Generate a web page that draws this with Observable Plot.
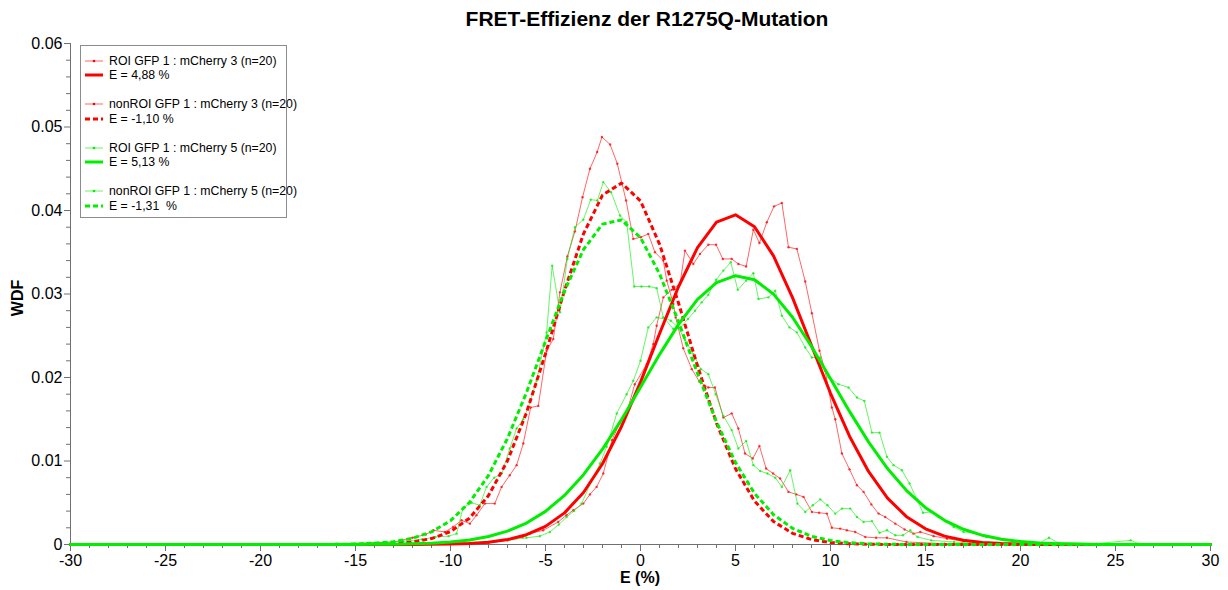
<!DOCTYPE html>
<html>
<head>
<meta charset="utf-8">
<script src="https://cdn.jsdelivr.net/npm/d3@7"></script>
<script src="https://cdn.jsdelivr.net/npm/@observablehq/plot@0.6"></script>
<style>
  html, body { margin: 0; padding: 0; background: #fff; }
  body { font-family: "Liberation Sans", Arial, sans-serif; color: #000; }
  #wrap { position: relative; width: 1228px; height: 590px; overflow: hidden; }
  #title { position: absolute; top: 7px; left: 0; width: 1294px; text-align: center;
           font-weight: bold; font-size: 21px; line-height: 24px; }
  #chart { position: absolute; top: 36px; left: 0; }
  #ylab { position: absolute; left: 18px; top: 298px; transform: translate(-50%, -50%) rotate(-90deg);
          font-weight: bold; font-size: 16px; white-space: nowrap; }
  #xlab { position: absolute; left: 640px; top: 578px; transform: translate(-50%, -50%);
          font-weight: bold; font-size: 16px; white-space: nowrap; }
  #legend { position: absolute; left: 80px; top: 45px; width: 207px; height: 173px;
            border: 1px solid #8c8c8c; background: #fff; box-sizing: border-box; }
  .lg { position: absolute; left: 3px; height: 14px; display: flex; align-items: center;
        font-size: 12.3px; white-space: nowrap; }
  .lg svg { margin-right: 5px; }
</style>
</head>
<body>
<div id="wrap">
  <div id="title"></div>
  <div id="chart"></div>
  <div id="ylab"></div>
  <div id="xlab"></div>
  <div id="legend"></div>
</div>
<script>
// ---------------- text ----------------
const titleText = "FRET-Effizienz der R1275Q-Mutation";
const xLabel = "E (%)";
const yLabel = "WDF";
const xTickValues = [-30, -25, -20, -15, -10, -5, 0, 5, 10, 15, 20, 25, 30];
const xTickLabels = ["-30", "-25", "-20", "-15", "-10", "-5", "0", "5", "10", "15", "20", "25", "30"];
const yTickValues = [0, 0.01, 0.02, 0.03, 0.04, 0.05, 0.06];
const yTickLabels = ["0", "0.01", "0.02", "0.03", "0.04", "0.05", "0.06"];

const seriesNames = [
  "ROI GFP 1 : mCherry 3 (n=20)",
  "nonROI GFP 1 : mCherry 3 (n=20)",
  "ROI GFP 1 : mCherry 5 (n=20)",
  "nonROI GFP 1 : mCherry 5 (n=20)"
];
const fitNames = ["E = 4,88 %", "E = -1,10 %", "E = 5,13 %", "E = -1,31\u00a0 %"];
const seriesColors = ["#ff0000", "#ff0000", "#00ee00", "#00ee00"];

// ---------------- raw data: [E (%), WDF] ----------------
const roi3Raw = [
  [-30,0],[-12,0],[-9,0.0001],[-8,0.0002],[-7,0.0005],[-6.2,0.0009],[-5.82,0.0013],[-5.12,0.0017],
  [-4.33,0.0027],[-3.9,0.0035],[-3.54,0.0041],[-3.01,0.0049],[-2.66,0.006],[-2.31,0.0069],[-1.96,0.0085],
  [-1.5,0.0125],[-1.1,0.0145],[-0.7,0.016],[-0.3,0.0192],[0.33,0.0216],[0.67,0.024],[0.85,0.0262],
  [1.2,0.0296],[1.64,0.0305],[2.08,0.0312],[2.34,0.0352],[2.78,0.0336],[3.13,0.0348],[3.57,0.0359],
  [3.98,0.0359],[4.33,0.0342],[4.8,0.0342],[5.15,0.0336],[5.56,0.0333],[5.94,0.0377],[6.26,0.0361],
  [6.65,0.0386],[7.03,0.0405],[7.44,0.0409],[7.79,0.0356],[8.23,0.0354],[8.67,0.0315],[9.02,0.0277],
  [9.42,0.0232],[9.72,0.0208],[10.07,0.0164],[10.25,0.015],[10.6,0.0109],[11.0,0.009],[11.39,0.0071],
  [11.74,0.0063],[12.15,0.0048],[12.53,0.0037],[12.88,0.0033],[13.41,0.0025],[13.9,0.0018],[14.37,0.0013],
  [14.73,0.0015],[15.43,0.001],[16.13,0.0007],[17,0.0004],[18,0.0002],[20,0.0001],[30,0]
];
const nonRoi3Raw = [
  [-30,0],[-15,0.0001],[-13,0.0003],[-12,0.0008],[-11.3,0.0012],[-10.9,0.0017],[-10.3,0.0015],[-9.86,0.0021],
  [-9.42,0.0029],[-8.98,0.0025],[-8.63,0.0035],[-8.19,0.0049],[-7.67,0.0049],[-7.31,0.0069],[-6.88,0.0083],
  [-6.52,0.0095],[-6.17,0.0121],[-5.78,0.0164],[-5.38,0.0166],[-4.94,0.0232],[-4.59,0.0246],[-4.24,0.0302],
  [-3.85,0.0345],[-3.45,0.0375],[-3.05,0.0416],[-2.66,0.045],[-2.28,0.047],[-2.03,0.0488],[-1.6,0.0479],
  [-1.22,0.0456],[-0.76,0.0412],[-0.38,0.0366],[0.02,0.0368],[0.41,0.0372],[0.76,0.035],[1.2,0.034],
  [1.38,0.0316],[1.73,0.0288],[1.85,0.0272],[2.25,0.0235],[2.7,0.021],[3.1,0.0195],[3.57,0.0188],
  [3.92,0.0188],[4.36,0.0152],[4.8,0.0157],[5.15,0.0139],[5.5,0.0109],[5.91,0.0103],[6.26,0.0118],
  [6.61,0.0091],[6.98,0.0085],[7.35,0.0079],[7.79,0.0063],[8.2,0.006],[8.58,0.0057],[9.02,0.0039],
  [9.4,0.0038],[9.81,0.0037],[10.07,0.002],[10.51,0.0019],[10.86,0.0017],[11.3,0.0015],[11.83,0.0009],
  [12.4,0.0008],[12.97,0.0008],[14,0.0003],[16,0.0001],[30,0]
];
const roi5Raw = [
  [-30,0],[-12,0.0001],[-9,0.0002],[-8,0.0003],[-7,0.0005],[-6,0.0008],[-5.3,0.001],[-4.77,0.0015],
  [-4.3,0.0024],[-3.89,0.0033],[-3.5,0.004],[-3.1,0.0049],[-2.6,0.0075],[-2.13,0.0097],[-1.78,0.0117],
  [-1.25,0.0157],[-0.73,0.018],[-0.38,0.0196],[0.0,0.022],[0.41,0.026],[0.85,0.0272],[1.29,0.027],
  [1.73,0.0258],[2.1,0.026],[2.5,0.027],[2.87,0.028],[3.22,0.029],[3.57,0.0299],[3.98,0.0317],
  [4.36,0.0328],[4.75,0.0338],[5.12,0.0305],[5.56,0.0316],[5.94,0.0325],[6.21,0.0294],[6.73,0.0296],
  [7.09,0.0304],[7.44,0.0274],[7.84,0.026],[8.23,0.0254],[8.67,0.0236],[9.02,0.0224],[9.46,0.0224],
  [9.9,0.02],[10.42,0.0192],[10.95,0.0188],[11.39,0.0176],[11.78,0.0172],[12.18,0.0134],[12.58,0.0134],
  [12.97,0.0105],[13.32,0.0095],[13.76,0.0089],[14.16,0.0073],[14.55,0.0054],[14.87,0.0038],[15.34,0.0039],
  [15.69,0.0033],[16.1,0.0027],[16.48,0.0021],[17.0,0.0015],[17.5,0.0014],[18.2,0.0009],[19,0.0006],
  [20,0.0004],[21,0.0002],[21.5,0.0008],[22,0.0002],[24,0.0001],[25.8,0.0005],[26.2,0.0001],[30,0]
];
const nonRoi5Raw = [
  [-30,0],[-16,0.0001],[-14,0.0002],[-12.5,0.0004],[-11.5,0.0006],[-10.8,0.0009],[-10.1,0.001],[-9.68,0.0013],
  [-9.34,0.0044],[-8.89,0.005],[-8.46,0.0047],[-8.1,0.0069],[-7.7,0.008],[-7.3,0.0085],[-6.88,0.0115],
  [-6.52,0.0139],[-6.17,0.015],[-5.91,0.0164],[-5.47,0.0196],[-4.94,0.0254],[-4.65,0.0334],[-4.24,0.0278],
  [-3.85,0.0342],[-3.45,0.038],[-3.01,0.0389],[-2.62,0.0413],[-2.27,0.0412],[-1.96,0.0434],[-1.55,0.0422],
  [-1.08,0.0394],[-0.73,0.0386],[-0.33,0.0309],[0.05,0.0309],[0.46,0.0309],[0.85,0.0307],[1.2,0.0272],
  [1.6,0.0268],[1.99,0.026],[2.34,0.0245],[2.78,0.0228],[3.18,0.021],[3.57,0.0204],[3.96,0.018],
  [4.36,0.0154],[4.8,0.0137],[5.15,0.0115],[5.56,0.0124],[5.94,0.0095],[6.3,0.0088],[6.68,0.0085],
  [7.09,0.008],[7.44,0.0069],[7.88,0.0089],[8.26,0.0049],[8.67,0.0039],[9.07,0.0047],[9.46,0.0054],
  [9.84,0.0047],[10.25,0.0037],[10.6,0.0043],[11.04,0.0043],[11.39,0.0033],[11.74,0.0027],[12.18,0.0028],
  [12.58,0.0014],[12.97,0.0017],[13.41,0.0011],[13.81,0.0011],[14.2,0.0017],[14.58,0.0009],[15.3,0.0005],
  [16.5,0.0003],[18,0.0001],[30,0]
];

// ---------------- fitted curves: [E (%), WDF] ----------------
const roi3Fit = [
  [-30,0],[-13,0],[-12,0.00001],[-11,0.00002],[-10,0.00005],[-9,0.00013],[-8,0.00028],[-7,0.00059],
  [-6,0.00117],[-5,0.00217],[-4,0.00379],[-3,0.00623],[-2,0.00967],[-1,0.01413],[0,0.01945],[1,0.02524],
  [2,0.03087],[3,0.03556],[4,0.0386],[5,0.03948],[6,0.03805],[7,0.03456],[8,0.02957],[9,0.02384],
  [10,0.01811],[11,0.01297],[12,0.00875],[13,0.00556],[14,0.00333],[15,0.00188],[16,0.001],[17,0.0005],
  [18,0.00024],[19,0.00011],[20,0.00004],[21,0],[30,0]
];
const nonRoi3Fit = [
  [-30,0],[-15,0],[-14,0.00004],[-13,0.00011],[-12,0.00029],[-11,0.00071],[-10,0.00155],[-9,0.00315],
  [-8,0.00586],[-7,0.01003],[-6,0.01579],[-5,0.02285],[-4,0.03041],[-3,0.03721],[-2,0.04185],[-1,0.04328],
  [0,0.04115],[1,0.03598],[2,0.02892],[3,0.02137],[4,0.01452],[5,0.00907],[6,0.00521],[7,0.00275],
  [8,0.00134],[9,0.0006],[10,0.00024],[11,0.00009],[12,0.00003],[13,0],[30,0]
];
const roi5Fit = [
  [-30,0],[-15,0],[-14,0.00002],[-13,0.00004],[-12,0.00008],[-11,0.00016],[-10,0.0003],[-9,0.00055],
  [-8,0.00096],[-7,0.0016],[-6,0.00257],[-5,0.00397],[-4,0.00588],[-3,0.00836],[-2,0.01141],[-1,0.01495],
  [0,0.01882],[1,0.02274],[2,0.02636],[3,0.02935],[4,0.03137],[5,0.03219],[6,0.03171],[7,0.02998],
  [8,0.02722],[9,0.02372],[10,0.01985],[11,0.01594],[12,0.01229],[13,0.0091],[14,0.00646],[15,0.00441],
  [16,0.00289],[17,0.00182],[18,0.0011],[19,0.00063],[20,0.00035],[21,0.00019],[22,0.0001],[23,0.00005],
  [24,0],[30,0]
];
const nonRoi5Fit = [
  [-30,0],[-17,0],[-16,0.00002],[-15,0.00006],[-14,0.00015],[-13,0.00034],[-12,0.00075],[-11,0.00151],
  [-10,0.00285],[-9,0.00503],[-8,0.00828],[-7,0.01271],[-6,0.01821],[-5,0.02434],[-4,0.03035],[-3,0.03533],
  [-2,0.03837],[-1,0.03887],[0,0.03675],[1,0.03242],[2,0.02669],[3,0.0205],[4,0.01469],[5,0.00982],
  [6,0.00613],[7,0.00357],[8,0.00194],[9,0.00098],[10,0.00047],[11,0.00021],[12,0.00008],[13,0.00003],
  [14,0],[30,0]
];

// ---------------- build ----------------
const toRows = arr => arr.map(([E, W]) => ({E, W}));
const rawSets = [roi3Raw, nonRoi3Raw, roi5Raw, nonRoi5Raw].map(toRows);
const fitSets = [roi3Fit, nonRoi3Fit, roi5Fit, nonRoi5Fit].map(toRows);
const fitDash = [null, "5,3", null, "5,3"];

const xMinor = d3.range(-30, 31, 1).filter(v => v % 5 !== 0);
const yMinor = d3.range(1, 30).filter(k => k % 5 !== 0).map(k => k * 0.002);
const xLabelMap = new Map(xTickValues.map((v, i) => [v, xTickLabels[i]]));
const yLabelMap = new Map(yTickValues.map((v, i) => [v, yTickLabels[i]]));
const axisColor = "#707070";

const marks = [
  Plot.axisX({ticks: xMinor, tickSize: 4, tickFormat: () => "", stroke: axisColor, label: null}),
  Plot.axisX({ticks: xTickValues, tickSize: 7, tickPadding: 3, tickFormat: d => xLabelMap.get(d),
              stroke: axisColor, fill: "#000", fontSize: 16, label: null}),
  Plot.axisY({ticks: yMinor, tickSize: 4, tickFormat: () => "", stroke: axisColor, label: null}),
  Plot.axisY({ticks: yTickValues, tickSize: 6, tickPadding: 2, tickFormat: d => yLabelMap.get(d),
              stroke: axisColor, fill: "#000", fontSize: 16, label: null}),
  Plot.ruleX([-30], {stroke: axisColor, strokeWidth: 1}),
];
rawSets.forEach((rows, i) => {
  marks.push(Plot.line(rows, {x: "E", y: "W", stroke: seriesColors[i], strokeWidth: 1, strokeOpacity: 0.6}));
  marks.push(Plot.dot(rows, {x: "E", y: "W", r: 1.2, fill: seriesColors[i], fillOpacity: 0.75, stroke: "none"}));
});
marks.push(Plot.ruleY([0], {stroke: axisColor, strokeWidth: 1}));
fitSets.forEach((rows, i) => {
  const opts = {x: "E", y: "W", stroke: seriesColors[i], strokeWidth: 3};
  if (fitDash[i]) { opts.strokeDasharray = fitDash[i]; opts.strokeLinecap = "butt"; opts.strokeLinejoin = "miter"; }
  marks.push(Plot.line(rows, opts));
});

const chart = Plot.plot({
  width: 1228, height: 554,
  marginTop: 7, marginBottom: 46, marginLeft: 70, marginRight: 18,
  style: {fontFamily: "'Liberation Sans', Arial, sans-serif", fontSize: "16px", background: "#fff", color: "#000", overflow: "visible"},
  x: {domain: [-30, 30]},
  y: {domain: [0, 0.06]},
  marks
});
document.getElementById("chart").appendChild(chart);

document.getElementById("title").textContent = titleText;
document.getElementById("ylab").textContent = yLabel;
document.getElementById("xlab").textContent = xLabel;

// ---------------- legend ----------------
const legend = document.getElementById("legend");
const rowTops = [8, 22, 51, 66, 95, 109, 138, 153];
seriesNames.forEach((name, i) => {
  const c = seriesColors[i];
  const a = document.createElement("div");
  a.className = "lg"; a.style.top = rowTops[2 * i] + "px";
  a.innerHTML = `<svg width="20" height="10"><line x1="1" y1="5" x2="19" y2="5" stroke="${c}" stroke-opacity="0.6" stroke-width="1"/><circle cx="10" cy="5" r="1.3" fill="${c}"/></svg><span></span>`;
  a.querySelector("span").textContent = name;
  legend.appendChild(a);
  const b = document.createElement("div");
  b.className = "lg"; b.style.top = rowTops[2 * i + 1] + "px";
  const dash = fitDash[i] ? `stroke-dasharray="${fitDash[i]}"` : "";
  b.innerHTML = `<svg width="20" height="10"><line x1="1" y1="5" x2="19" y2="5" stroke="${c}" stroke-width="3" ${dash}/></svg><span></span>`;
  b.querySelector("span").textContent = fitNames[i];
  legend.appendChild(b);
});
</script>
</body>
</html>
